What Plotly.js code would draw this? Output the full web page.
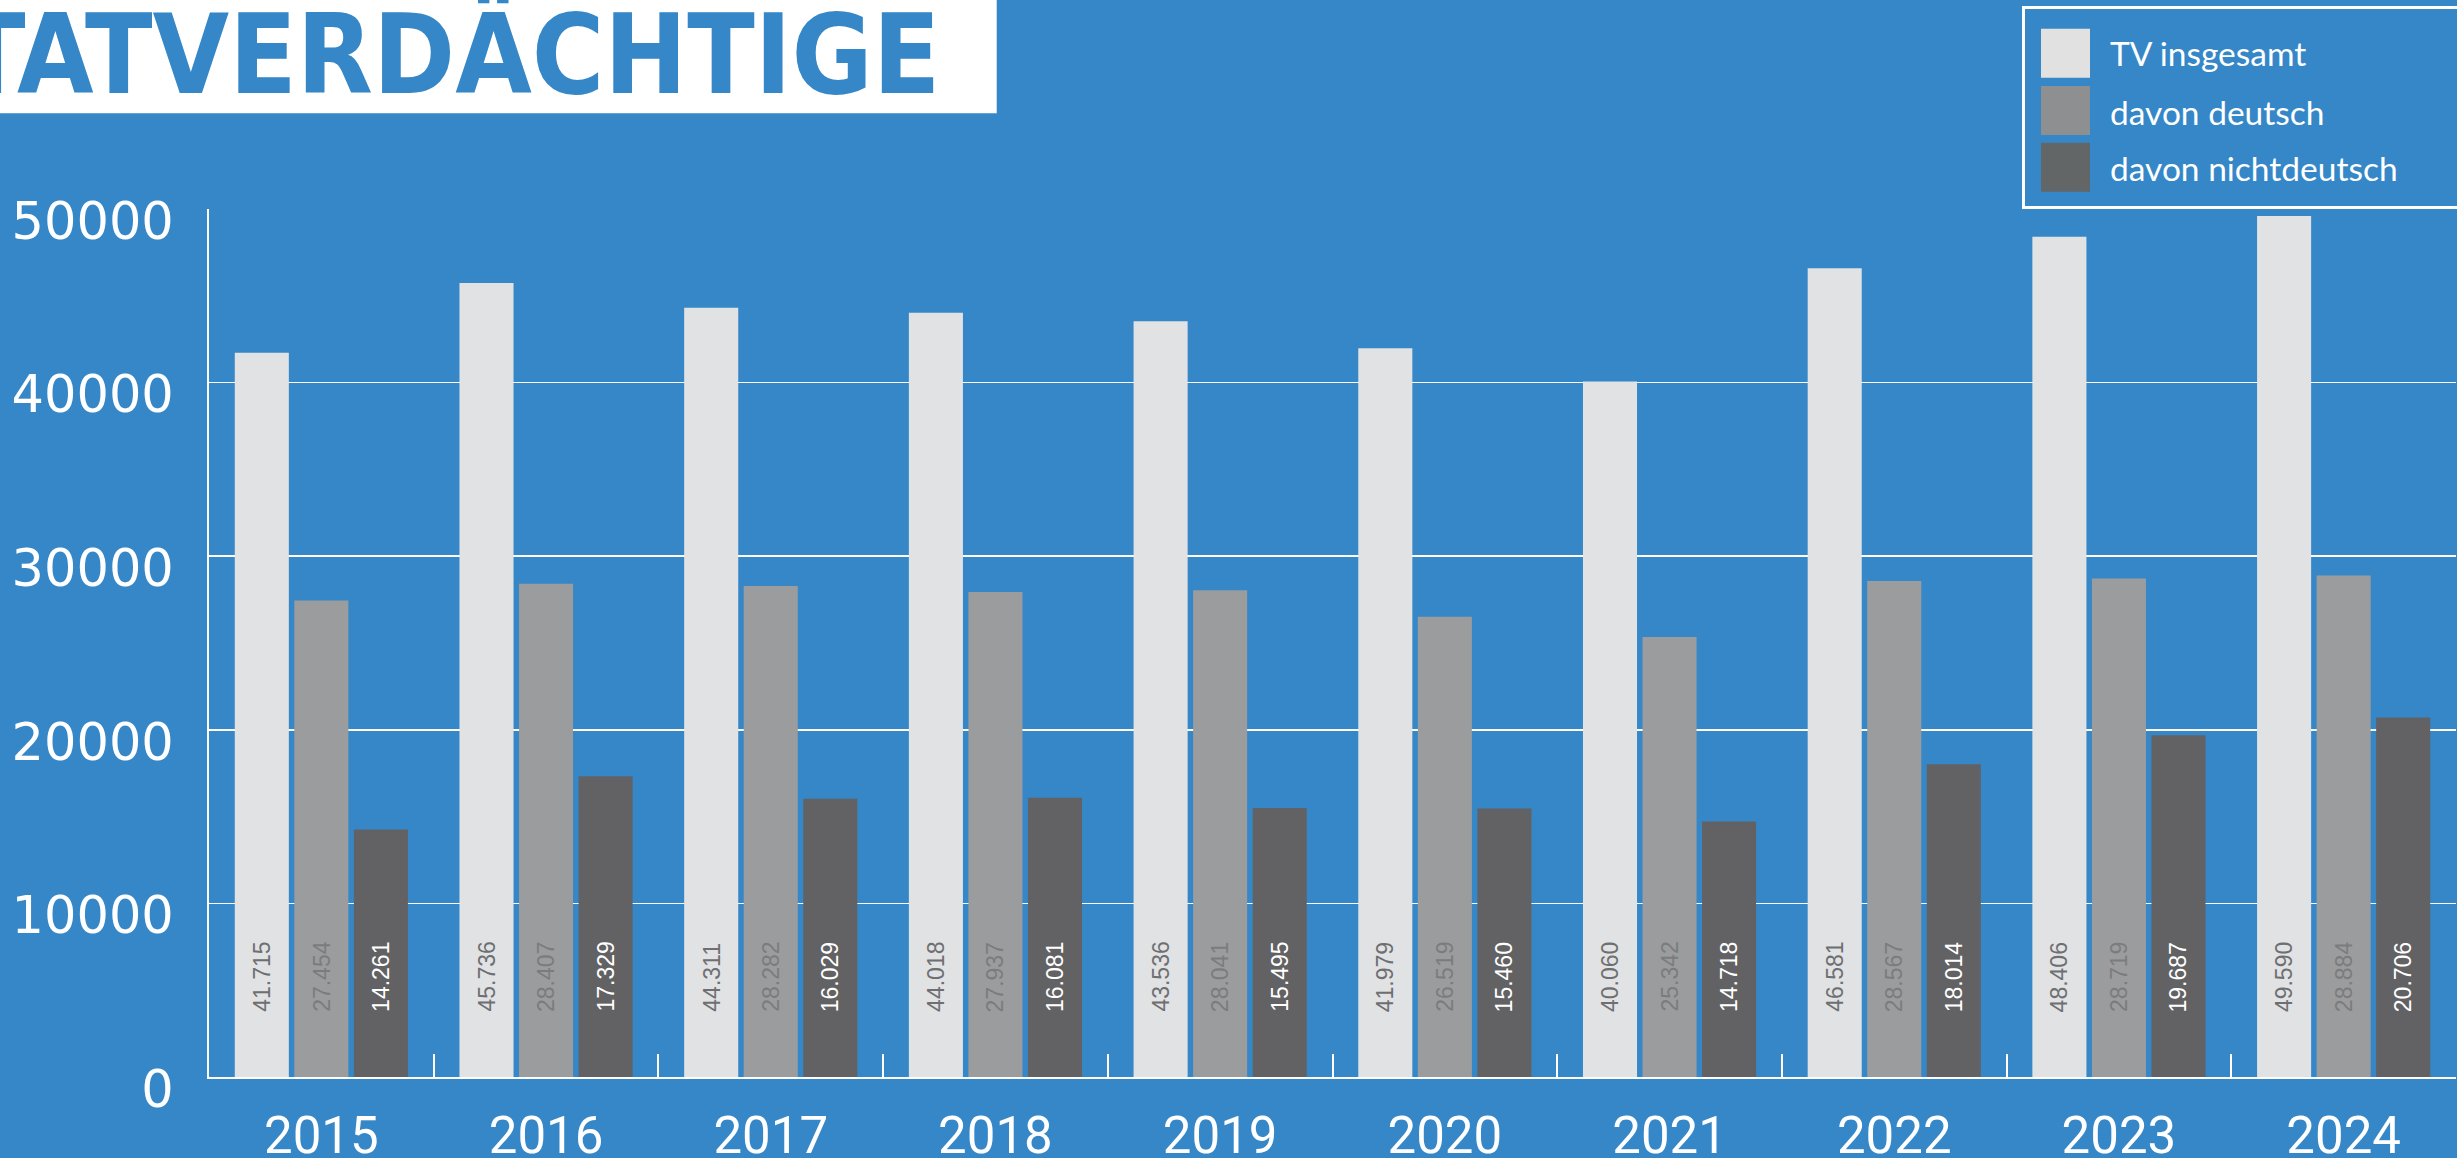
<!DOCTYPE html>
<html>
<head>
<meta charset="utf-8">
<script src="https://cdn.plot.ly/plotly-3.0.1.min.js"></script>
<style>
  html, body { margin: 0; padding: 0; background: #3587C7; }
  #chart { width: 2457px; height: 1158px; }
</style>
</head>
<body>
<div id="chart"></div>
<script>
// ---- data ----
const years = ['2015', '2016', '2017', '2018', '2019', '2020', '2021', '2022', '2023', '2024'];
const totalTV = [41715, 45736, 44311, 44018, 43536, 41979, 40060, 46581, 48406, 49590];
const germanTV = [27454, 28407, 28282, 27937, 28041, 26519, 25342, 28567, 28719, 28884];
const nonGermanTV = [14261, 17329, 16029, 16081, 15495, 15460, 14718, 18014, 19687, 20706];
const seriesNames = ['TV insgesamt', 'davon deutsch', 'davon nichtdeutsch'];
const yTickValues = [0, 10000, 20000, 30000, 40000, 50000];
const titleText = 'TATVERDÄCHTIGE';

// ---- styling / geometry ----
const W = 2457, H = 1158;
const M = { l: 209, r: 1, t: 209, b: 81 };
const plotW = W - M.l - M.r, plotH = H - M.t - M.b;
const bg = '#3587C7';
const barColors = ['#E1E2E4', '#9B9C9E', '#626264'];
const legendColors = ['#E1E1E1', '#8E8F90', '#636667'];
const labelColors = ['#6E6F71', '#7B7C7E', '#FFFFFF'];
const bargap = 0.205, bargroupgap = 0.092;

const px2x = p => (p - M.l) / plotW;
const py2y = p => (H - M.b - p) / plotH;
const fmt = v => String(v).replace(/\B(?=(\d{3})+(?!\d))/g, '.');

const seriesValues = [totalTV, germanTV, nonGermanTV];

const traces = seriesValues.map((vals, s) => ({
  type: 'bar',
  name: seriesNames[s],
  x: years,
  y: vals,
  marker: { color: barColors[s], line: { width: 0 } },
  hoverinfo: 'x+y'
}));

// value labels rotated inside bars
const catW = plotW / years.length;
const slot = catW * (1 - bargap) / 3;
const annotations = [];
seriesValues.forEach((vals, s) => {
  vals.forEach((v, i) => {
    annotations.push({
      x: i, y: 0, xref: 'x', yref: 'y',
      text: fmt(v), textangle: -90, showarrow: false,
      xanchor: 'center', yanchor: 'bottom',
      xshift: (s - 1) * slot, yshift: 63,
      font: { family: 'Liberation Sans Narrow, Liberation Sans, Arial, sans-serif', size: 23, color: labelColors[s] }
    });
  });
});

// title
annotations.push({
  xref: 'paper', yref: 'paper', x: px2x(942), y: py2y(55),
  xanchor: 'right', yanchor: 'middle', showarrow: false,
  text: titleText,
  font: { family: 'DejaVu Sans Condensed, DejaVu Sans', size: 110, color: bg, weight: 'bold' }
});

// legend texts
const legendRowsY = [53.3, 111.5, 168.3];
seriesNames.forEach((n, s) => {
  annotations.push({
    xref: 'paper', yref: 'paper', x: px2x(2108), y: py2y(legendRowsY[s]),
    xanchor: 'left', yanchor: 'middle', showarrow: false, text: n,
    font: { family: 'Lato, sans-serif', size: 33.5, color: '#FFFFFF' }
  });
});

const swatchRowsY = [53.3, 110.5, 167.3];
const shapes = [
  // title white box
  { type: 'rect', xref: 'paper', yref: 'paper', x0: px2x(-20), x1: px2x(996.7), y0: py2y(113.3), y1: py2y(-20),
    fillcolor: '#FFFFFF', line: { width: 0 }, layer: 'below' },
  // legend box
  { type: 'rect', xref: 'paper', yref: 'paper', x0: px2x(2023.5), x1: px2x(2480), y0: py2y(207.5), y1: py2y(7.5),
    fillcolor: 'rgba(0,0,0,0)', line: { color: '#FFFFFF', width: 3 } }
];
swatchRowsY.forEach((cy, s) => {
  shapes.push({ type: 'rect', xref: 'paper', yref: 'paper',
    x0: px2x(2041), x1: px2x(2090), y0: py2y(cy + 24.5), y1: py2y(cy - 24.5),
    fillcolor: legendColors[s], line: { width: 0 } });
});

const layout = {
  width: W, height: H,
  margin: M,
  paper_bgcolor: bg, plot_bgcolor: bg,
  showlegend: false,
  barmode: 'group', bargap: bargap, bargroupgap: bargroupgap,
  xaxis: {
    type: 'category', range: [-0.5, years.length - 0.5], showgrid: false, zeroline: false,
    showline: true, linecolor: '#FFFFFF', linewidth: 2,
    ticks: 'inside', tickson: 'boundaries', ticklen: 23, tickwidth: 2, tickcolor: '#FFFFFF',
    tickfont: { family: 'Roboto, sans-serif', size: 51, color: '#FFFFFF' },
    tickangle: 0, ticklabelstandoff: 13
  },
  yaxis: {
    range: [0, 50000], tickvals: yTickValues, ticktext: yTickValues.map(String),
    showgrid: true, gridcolor: '#FFFFFF', gridwidth: 1.5, zeroline: false,
    showline: true, linecolor: '#FFFFFF', linewidth: 2, ticks: '',
    tickfont: { family: 'DejaVu Sans, sans-serif', size: 51, color: '#FFFFFF' },
    ticklabelstandoff: 23, ticklabelshift: 12
  },
  annotations: annotations,
  shapes: shapes
};

Plotly.newPlot('chart', traces, layout, { displayModeBar: false, staticPlot: true });
</script>
</body>
</html>
